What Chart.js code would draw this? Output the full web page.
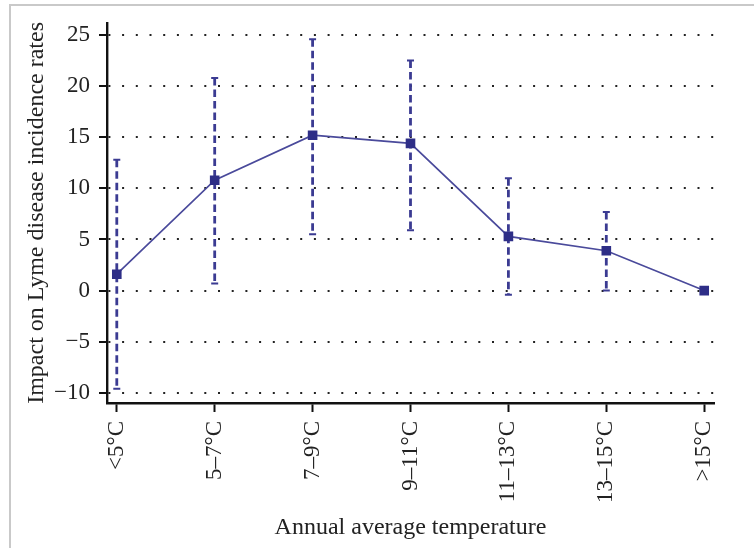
<!DOCTYPE html>
<html>
<head>
<meta charset="utf-8">
<title>Lyme disease and temperature</title>
<script src="https://cdn.jsdelivr.net/npm/chart.js@4.4.0/dist/chart.umd.min.js"></script>
<style>
  html, body { margin: 0; padding: 0; background: #fff; }
  #frame {
    position: absolute; left: 9px; top: 4px; right: 0; bottom: 0;
    border-top: 2px solid #c9c9c9; border-left: 2px solid #c9c9c9;
  }
  #wrap { position: absolute; left: 0; top: 0; width: 754px; height: 548px; }
</style>
</head>
<body>
<div id="frame"></div>
<div id="wrap"><canvas id="chart"></canvas></div>
<script>
// temperature bands and the estimated impact with its interval
var categories = ['<5°C', '5–7°C', '7–9°C', '9–11°C', '11–13°C', '13–15°C', '>15°C'];
var impact = [1.6, 10.8, 15.2, 14.4, 5.3, 3.9, 0];
var upper = [12.8, 20.8, 24.6, 22.5, 11.0, 7.7, null];
var lower = [-9.6, 0.7, 5.5, 5.9, -0.4, 0.0, null];
var yTicks = [-10, -5, 0, 5, 10, 15, 20, 25];

var navy = '#2e2e87';
var serif = 'Liberation Serif';

// dashed vertical interval bars with small caps, drawn under the line
var errorBars = {
    id: 'errorBars',
    beforeDatasetsDraw: function(chart) {
        var ctx = chart.ctx;
        var xs = chart.scales.x, ys = chart.scales.y;
        ctx.save();
        ctx.strokeStyle = '#3b3b92';
        for (var i = 0; i < impact.length; i++) {
            if (upper[i] == null) continue;
            var x = xs.getPixelForValue(i);
            var yTop = ys.getPixelForValue(upper[i]);
            var yBot = ys.getPixelForValue(lower[i]);
            ctx.lineWidth = 2.8;
            ctx.setLineDash([7.5, 4]);
            ctx.beginPath();
            ctx.moveTo(x, yTop);
            ctx.lineTo(x, yBot);
            ctx.stroke();
            ctx.setLineDash([]);
            ctx.lineWidth = 2;
            ctx.beginPath();
            ctx.moveTo(x - 3.5, yTop); ctx.lineTo(x + 3.5, yTop);
            ctx.moveTo(x - 3.5, yBot); ctx.lineTo(x + 3.5, yBot);
            ctx.stroke();
        }
        ctx.restore();
    }
};

var ctx = document.getElementById('chart').getContext('2d');
var chart = new Chart(ctx, {
    type: 'line',
    data: {
        datasets: [{
            data: impact.map(function(v, i) { return { x: i, y: v }; }),
            borderColor: '#4a4a9b',
            borderWidth: 1.7,
            pointStyle: 'rect',
            pointRadius: 6.8,
            pointBorderWidth: 0,
            pointBackgroundColor: navy,
            tension: 0
        }]
    },
    plugins: [errorBars],
    options: {
        responsive: true,
        maintainAspectRatio: false,
        animation: false,
        layout: { padding: { top: 16, right: 40, bottom: 0, left: 0 } },
        plugins: { legend: { display: false }, tooltip: { enabled: false } },
        scales: {
            x: {
                type: 'linear',
                min: -0.1,
                max: 6.1,
                afterBuildTicks: function(scale) {
                    scale.ticks = categories.map(function(c, i) { return { value: i }; });
                },
                afterFit: function(scale) { scale.height = 548 - 403; },
                ticks: {
                    minRotation: 90,
                    maxRotation: 90,
                    padding: 9,
                    color: '#222',
                    font: { family: serif, size: 23 },
                    callback: function(v) { return categories[v]; }
                },
                grid: {
                    drawOnChartArea: false,
                    tickLength: 9,
                    tickWidth: 2,
                    tickColor: '#111'
                },
                border: { color: '#111', width: 2.4 },
                title: {
                    display: true,
                    text: 'Annual average temperature',
                    color: '#222',
                    font: { family: serif, size: 24 },
                    padding: { top: 0, bottom: 6 }
                }
            },
            y: {
                min: -11,
                max: 26.2,
                afterBuildTicks: function(scale) {
                    scale.ticks = yTicks.map(function(v) { return { value: v }; });
                },
                afterFit: function(scale) { scale.width = 107; },
                ticks: {
                    padding: 9,
                    color: '#222',
                    font: { family: serif, size: 23 },
                    callback: function(v) { return v < 0 ? '\u2212' + Math.abs(v) : String(v); }
                },
                grid: {
                    color: '#222',
                    lineWidth: 2,
                    tickLength: 8,
                    tickColor: '#111',
                    tickWidth: 2,
                    tickBorderDash: []
                },
                border: { color: '#111', width: 2.4, dash: [2, 11.7] },
                title: {
                    display: true,
                    text: 'Impact on Lyme disease incidence rates',
                    color: '#222',
                    font: { family: serif, size: 24 },
                    padding: { top: 22, bottom: 0 }
                }
            }
        }
    }
});
</script>
</body>
</html>
